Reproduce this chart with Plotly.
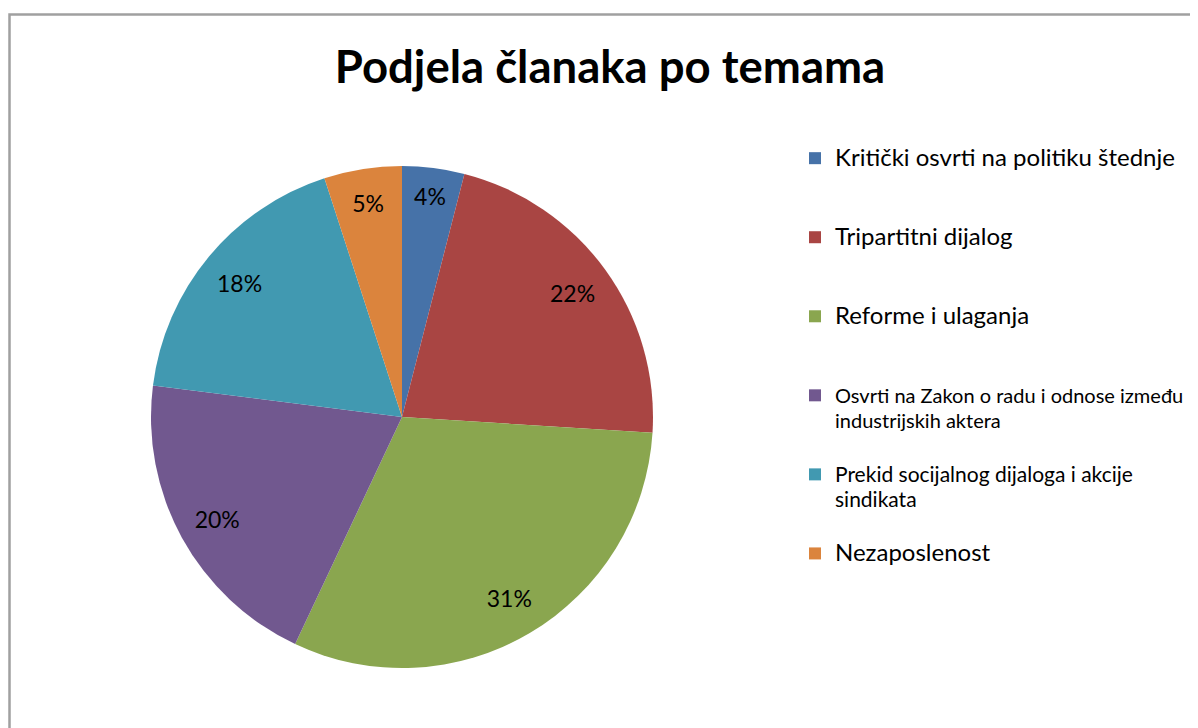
import plotly.graph_objects as go

categories = [
    "Kritički osvrti na politiku štednje",
    "Tripartitni dijalog",
    "Reforme i ulaganja",
    "Osvrti na Zakon o radu i odnose između industrijskih aktera",
    "Prekid socijalnog dijaloga i akcije sindikata",
    "Nezaposlenost",
]
values = [4, 22, 31, 20, 18, 5]
colors = ["#4672A8", "#A94543", "#8AA64F", "#71588F", "#4199B1", "#DB843D"]

# legend display labels (wrapping / sizes as in reference)
legend_labels = [
    '<span style="font-size:24px">Kritički osvrti na politiku štednje</span><br> <br> ',
    '<span style="font-size:24px">Tripartitni dijalog</span><br> <br> ',
    '<span style="font-size:24px">Reforme i ulaganja</span><br> <br> ',
    '<span style="font-size:20px">Osvrti na Zakon o radu i odnose između</span><br>'
    '<span style="font-size:20px">industrijskih aktera</span><br> ',
    '<span style="font-size:21px">Prekid socijalnog dijaloga i akcije</span><br>'
    '<span style="font-size:21px">sindikata</span><br> ',
    '<span style="font-size:24px">Nezaposlenost</span>',
]

# page body has an 8px margin; figure sized to fill the rest of the window
W, H = 1190, 720
cx, cy, r = 394, 409, 251
dom = dict(x=[(cx - r) / W, (cx + r) / W], y=[(H - cy - r) / H, (H - cy + r) / H])

fig = go.Figure()
# coloured slices
fig.add_trace(
    go.Pie(
        labels=legend_labels,
        values=values,
        sort=False,
        direction="clockwise",
        rotation=0,
        marker=dict(colors=colors, line=dict(width=0)),
        textinfo="none",
        hovertext=categories,
        hoverinfo="text+percent",
        domain=dom,
    )
)
# percentage labels placed toward the rim (transparent ring carrying text)
fig.add_trace(
    go.Pie(
        labels=legend_labels,
        values=values,
        sort=False,
        direction="clockwise",
        rotation=0,
        hole=0.68,
        marker=dict(colors=["rgba(0,0,0,0)"] * len(values), line=dict(width=0)),
        texttemplate="%{percent:.0%}",
        textposition="inside",
        insidetextorientation="horizontal",
        textfont=dict(family="Lato", size=23, color="black"),
        hoverinfo="skip",
        showlegend=False,
        domain=dom,
    )
)

fig.update_layout(
    width=W,
    height=H,
    margin=dict(l=0, r=0, t=0, b=0),
    paper_bgcolor="white",
    font=dict(family="Lato", color="black"),
    title=dict(
        text="<b>Podjela članaka po temama</b>",
        x=602 / W,
        xanchor="center",
        y=(H - 59) / H,
        yanchor="middle",
        font=dict(family="Lato", size=45.5, color="black"),
    ),
    legend=dict(
        x=787 / W,
        xanchor="left",
        y=(H - 131) / H,
        yanchor="top",
        font=dict(family="Lato", size=19.5, color="black"),
        valign="top",
        bgcolor="rgba(0,0,0,0)",
    ),
    shapes=[
        dict(
            type="rect",
            xref="paper",
            yref="paper",
            x0=1.5 / W,
            x1=1.02,
            y0=-0.02,
            y1=(H - 6.5) / H,
            line=dict(color="#a0a0a0", width=2.5),
            fillcolor="rgba(0,0,0,0)",
            layer="below",
        )
    ],
)

fig.write_html("out.html")
